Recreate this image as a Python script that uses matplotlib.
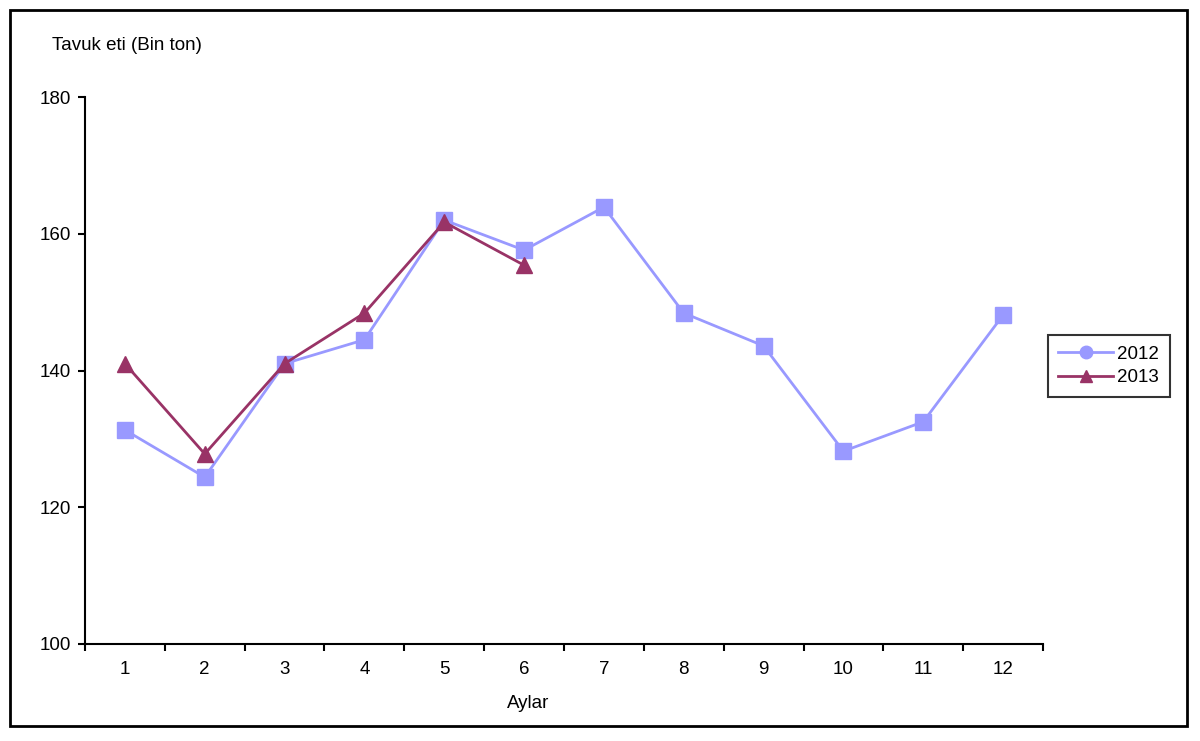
import matplotlib.pyplot as plt
from matplotlib.lines import Line2D
from matplotlib.patches import Rectangle

plt.rcParams['font.family'] = ['Liberation Sans', 'DejaVu Sans']

# Dados
aylar = [1, 2, 3, 4, 5, 6, 7, 8, 9, 10, 11, 12]
y2012 = [131.3, 124.4, 141.0, 144.5, 162.0, 157.6, 163.9, 148.4, 143.6, 128.2, 132.5, 148.1]
aylar_2013 = [1, 2, 3, 4, 5, 6]
y2013 = [141.0, 127.8, 141.0, 148.4, 161.7, 155.4]

c2012 = '#9999FF'
c2013 = '#993366'

fig = plt.figure(figsize=(12, 7.41), dpi=100)
ax = fig.add_axes([85 / 1200, 1 - 644 / 741, (1043 - 85) / 1200, (644 - 97) / 741])

# Çerçeve
fig.patches.append(Rectangle((10 / 1200, 1 - 726 / 741), 1177 / 1200, 716 / 741,
                             transform=fig.transFigure, fill=False,
                             edgecolor='black', linewidth=2))

ax.plot(aylar, y2012, color=c2012, linewidth=2, marker='s', markersize=12,
        markeredgecolor=c2012, markerfacecolor=c2012)
ax.plot(aylar_2013, y2013, color=c2013, linewidth=2, marker='^', markersize=12,
        markeredgecolor=c2013, markerfacecolor=c2013)

ax.set_xlim(0.5, 12.5)
ax.set_ylim(100, 180)
ax.set_yticks([100, 120, 140, 160, 180])
ax.set_xticks([i + 0.5 for i in range(0, 13)])
ax.set_xticklabels([])
ax.set_xticks(aylar, minor=True)
ax.set_xticklabels([str(a) for a in aylar], minor=True)
ax.tick_params(axis='x', which='major', direction='out', length=5, width=1.5)
ax.tick_params(axis='x', which='minor', length=0, pad=12, labelsize=13.5)
ax.tick_params(axis='y', direction='out', length=5, width=1.5, labelsize=13.5, pad=5)

for s in ['top', 'right']:
    ax.spines[s].set_visible(False)
for s in ['left', 'bottom']:
    ax.spines[s].set_linewidth(1.5)

fig.text(52 / 1200, 1 - 45 / 741, 'Tavuk eti (Bin ton)', fontsize=13.5, va='center', ha='left')
fig.text(528 / 1200, 1 - 703 / 741, 'Aylar', fontsize=13.5, va='center', ha='center')

handles = [Line2D([], [], color=c2012, linewidth=2, marker='o', markersize=9),
           Line2D([], [], color=c2013, linewidth=2, marker='^', markersize=9)]
leg = fig.legend(handles, ['2012', '2013'], loc='center left',
                 bbox_to_anchor=(1048 / 1200, 1 - 366 / 741), fontsize=13.5,
                 frameon=True, fancybox=False, borderpad=0.55, handlelength=2.9,
                 handletextpad=0.25, labelspacing=0.35, borderaxespad=0)
leg.get_frame().set_edgecolor('black')
leg.get_frame().set_linewidth(1.5)

fig.savefig('out.png', dpi=100)
